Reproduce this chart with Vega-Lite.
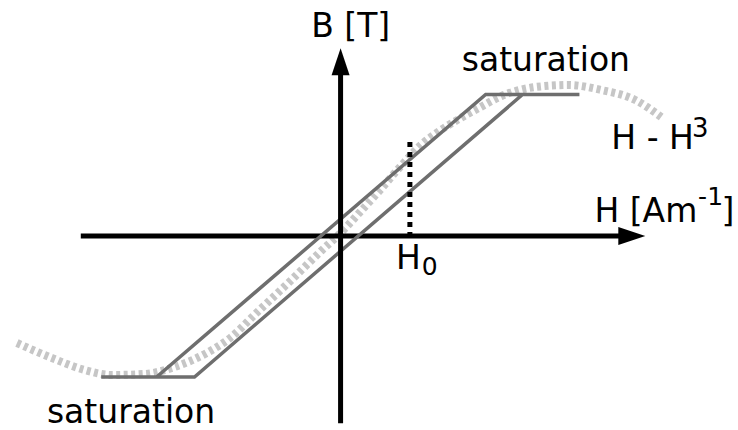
{
  "$schema": "https://vega.github.io/schema/vega-lite/v6.json",
  "width": 738,
  "height": 430,
  "padding": 0,
  "autosize": {"type": "fit", "contains": "padding"},
  "background": "white",
  "config": {"view": {"stroke": null}},
  "datasets": {
    "curve": [
      {"H": -3.245, "B": -1.07}, {"H": -2.895, "B": -1.22}, {"H": -2.565, "B": -1.34},
      {"H": -2.295, "B": -1.39}, {"H": -1.965, "B": -1.38}, {"H": -1.665, "B": -1.31},
      {"H": -1.325, "B": -1.16}, {"H": -1.095, "B": -1.01}, {"H": -0.865, "B": -0.79},
      {"H": -0.525, "B": -0.47}, {"H": -0.195, "B": -0.15}, {"H": 0.0, "B": 0.03},
      {"H": 0.205, "B": 0.25}, {"H": 0.405, "B": 0.47}, {"H": 0.605, "B": 0.70},
      {"H": 0.805, "B": 0.91}, {"H": 1.005, "B": 1.06}, {"H": 1.205, "B": 1.18},
      {"H": 1.405, "B": 1.29}, {"H": 1.615, "B": 1.40}, {"H": 1.955, "B": 1.49},
      {"H": 2.285, "B": 1.51}, {"H": 2.615, "B": 1.46}, {"H": 2.955, "B": 1.36},
      {"H": 3.215, "B": 1.19}
    ],
    "loop": [
      {"o": 1, "H": -2.40, "B": -1.41},
      {"o": 2, "H": -1.465, "B": -1.41},
      {"o": 3, "H": 1.825, "B": 1.415},
      {"o": 4, "H": 2.395, "B": 1.415},
      {"o": 5, "H": 1.455, "B": 1.415},
      {"o": 6, "H": -1.845, "B": -1.41}
    ],
    "haxis": [{"H": -2.605, "H2": 2.86, "B": 0}],
    "vaxis": [{"H": 0, "B": -1.873, "B2": 1.66}],
    "h0": [{"H": 0.695, "B": 0.94, "B2": 0}],
    "arrowsH": [{"H": 2.92, "B": 0}],
    "arrowsV": [{"H": 0, "B": 1.743}],
    "labels": [
      {"t": "B [T]", "H": -0.295, "B": 1.99, "fs": 33},
      {"t": "saturation", "H": 1.215, "B": 1.65, "fs": 33},
      {"t": "saturation", "H": -2.945, "B": -1.87, "fs": 33},
      {"t": "H - H", "H": 2.715, "B": 0.87, "fs": 33},
      {"t": "3", "H": 3.525, "B": 0.99, "fs": 26},
      {"t": "H [Am", "H": 2.545, "B": 0.14, "fs": 33},
      {"t": "-1", "H": 3.585, "B": 0.31, "fs": 25},
      {"t": "]", "H": 3.82, "B": 0.14, "fs": 33},
      {"t": "H", "H": 0.555, "B": -0.33, "fs": 33},
      {"t": "0", "H": 0.815, "B": -0.385, "fs": 25}
    ]
  },
  "resolve": {"scale": {"x": "shared", "y": "shared"}},
  "layer": [
    {
      "data": {"name": "curve"},
      "mark": {"type": "line", "interpolate": "monotone", "color": "#c6c6c6", "strokeWidth": 8, "strokeDash": [4, 3.5], "strokeCap": "butt"},
      "encoding": {
        "x": {"field": "H", "type": "quantitative", "scale": {"domain": [-3.395, 3.985], "nice": false, "zero": false}, "axis": null},
        "y": {"field": "B", "type": "quantitative", "scale": {"domain": [-1.94, 2.36], "nice": false, "zero": false}, "axis": null}
      }
    },
    {
      "data": {"name": "haxis"},
      "mark": {"type": "rule", "color": "black", "strokeWidth": 5, "strokeCap": "butt"},
      "encoding": {
        "x": {"field": "H", "type": "quantitative"},
        "x2": {"field": "H2"},
        "y": {"field": "B", "type": "quantitative"}
      }
    },
    {
      "data": {"name": "loop"},
      "mark": {"type": "line", "color": "#6e6e6e", "strokeWidth": 3.5, "strokeJoin": "miter", "strokeCap": "butt"},
      "encoding": {
        "x": {"field": "H", "type": "quantitative"},
        "y": {"field": "B", "type": "quantitative"},
        "order": {"field": "o", "type": "quantitative"}
      }
    },
    {
      "data": {"name": "vaxis"},
      "mark": {"type": "rule", "color": "black", "strokeWidth": 5, "strokeCap": "butt"},
      "encoding": {
        "x": {"field": "H", "type": "quantitative"},
        "y": {"field": "B", "type": "quantitative"},
        "y2": {"field": "B2"}
      }
    },
    {
      "data": {"name": "h0"},
      "mark": {"type": "rule", "color": "black", "strokeWidth": 5, "strokeDash": [5, 5], "strokeCap": "butt"},
      "encoding": {
        "x": {"field": "H", "type": "quantitative"},
        "y": {"field": "B", "type": "quantitative"},
        "y2": {"field": "B2"}
      }
    },
    {
      "data": {"name": "arrowsH"},
      "mark": {"type": "point", "shape": "M-1,-0.667L1,0L-1,0.667Z", "size": 729, "filled": true, "color": "black", "opacity": 1, "strokeWidth": 0},
      "encoding": {
        "x": {"field": "H", "type": "quantitative"},
        "y": {"field": "B", "type": "quantitative"}
      }
    },
    {
      "data": {"name": "arrowsV"},
      "mark": {"type": "point", "shape": "M-0.667,1L0,-1L0.667,1Z", "size": 729, "filled": true, "color": "black", "opacity": 1, "strokeWidth": 0},
      "encoding": {
        "x": {"field": "H", "type": "quantitative"},
        "y": {"field": "B", "type": "quantitative"}
      }
    },
    {
      "data": {"name": "labels"},
      "mark": {"type": "text", "align": "left", "baseline": "alphabetic", "font": "DejaVu Sans", "color": "black"},
      "encoding": {
        "x": {"field": "H", "type": "quantitative"},
        "y": {"field": "B", "type": "quantitative"},
        "text": {"field": "t"},
        "size": {"field": "fs", "type": "quantitative", "scale": null}
      }
    }
  ]
}
